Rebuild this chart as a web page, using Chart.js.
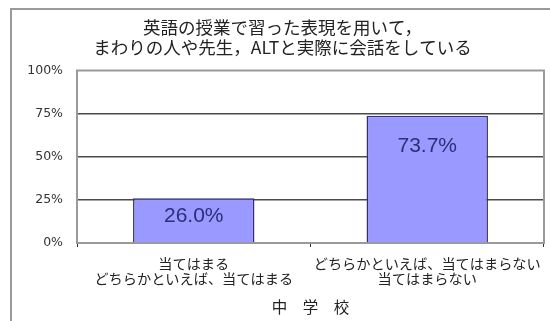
<!DOCTYPE html>
<html>
<head>
<meta charset="utf-8">
<script src="https://cdn.jsdelivr.net/npm/chart.js@4"></script>
<style>
  html, body { margin: 0; padding: 0; background: #fff; overflow: hidden; }
  #frame { position: absolute; left: 10px; top: 8px; width: 600px; height: 400px; border: 2px solid #9a9a9a; }
  #chart { position: absolute; left: 0; top: 0; }
</style>
</head>
<body>
<div id="frame"></div>
<canvas id="chart" width="550" height="321"></canvas>
<script>
'use strict';

// データ
const categories = [
  ['当てはまる', 'どちらかといえば、当てはまる'],
  ['どちらかといえば、当てはまらない', '当てはまらない']
];
const values = [26.0, 73.7];
const yTicks = [0, 25, 50, 75, 100];
const titleLines = ['英語の授業で習った表現を用いて，', 'まわりの人や先生，ALTと実際に会話をしている'];
const xTitle = '中　学　校';

const JP = '"Noto Sans CJK JP", "Noto Sans", sans-serif';

// 棒の中に値を書く
const valueLabels = {
  id: 'valueLabels',
  afterDatasetsDraw(chart) {
    const ctx = chart.ctx;
    const meta = chart.getDatasetMeta(0);
    ctx.save();
    ctx.font = '21px "Liberation Sans", Arial, sans-serif';
    ctx.fillStyle = '#2e2e78';
    ctx.textAlign = 'center';
    ctx.textBaseline = 'middle';
    meta.data.forEach((bar, i) => {
      const h = bar.base - bar.y;
      const off = Math.min(30, h / 2 - 4);
      ctx.fillText(values[i].toFixed(1) + '%', bar.x, bar.y + off);
    });
    ctx.restore();
  }
};

// プロットエリアの枠
const plotFrame = {
  id: 'plotFrame',
  beforeDatasetsDraw(chart) {
    const a = chart.chartArea;
    const ctx = chart.ctx;
    ctx.save();
    ctx.strokeStyle = '#9a9a9a';
    ctx.lineWidth = 2;
    ctx.strokeRect(a.left, a.top, a.right - a.left, a.bottom - a.top);
    ctx.restore();
  }
};

new Chart(document.getElementById('chart'), {
  type: 'bar',
  data: {
    labels: categories,
    datasets: [{
      data: values,
      backgroundColor: '#9999ff',
      borderColor: '#303070',
      borderWidth: 1.5,
      categoryPercentage: 1,
      barPercentage: 0.52
    }]
  },
  options: {
    responsive: false,
    animation: false,
    layout: { padding: { left: 16, right: 1, top: 0, bottom: 0 } },
    plugins: {
      legend: { display: false },
      tooltip: { enabled: false },
      title: {
        display: true,
        text: titleLines,
        color: '#222',
        font: { family: JP, size: 17.5, weight: 'normal', lineHeight: 1.1 },
        padding: { top: 18, bottom: 14 }
      }
    },
    scales: {
      x: {
        grid: { display: true, drawOnChartArea: false, drawTicks: true, tickLength: 4, color: '#333', offset: true },
        border: { display: false },
        ticks: {
          color: '#222',
          padding: 9,
          maxRotation: 0,
          autoSkip: false,
          font: { family: JP, size: 14.2, lineHeight: 1.08 }
        },
        title: {
          display: true,
          text: xTitle,
          color: '#222',
          font: { family: JP, size: 15.5 },
          padding: { top: 0, bottom: 5 }
        },
        afterFit(scale) { scale.height = 78; }
      },
      y: {
        min: 0,
        max: 100,
        afterBuildTicks(scale) { scale.ticks = yTicks.map(v => ({ value: v })); },
        grid: {
          drawTicks: false,
          color: ctx => (ctx.tick && (ctx.tick.value === 0 || ctx.tick.value === 100)) ? 'rgba(0,0,0,0)' : '#4a4a4a',
          lineWidth: 1.5
        },
        border: { display: false },
        ticks: {
          color: '#333',
          padding: 14,
          font: { family: '"DejaVu Sans", sans-serif', size: 12.5 },
          callback: v => v + '%'
        },
        afterFit(scale) { scale.width = 61; }
      }
    }
  },
  plugins: [plotFrame, valueLabels]
});
</script>
</body>
</html>
